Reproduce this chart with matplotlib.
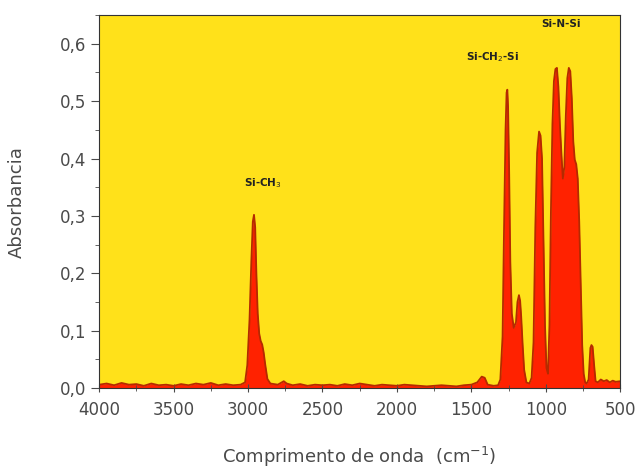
import matplotlib
matplotlib.use("Agg")
import matplotlib.pyplot as plt
from matplotlib.ticker import MultipleLocator, FuncFormatter

# FTIR spectrum (wavenumber in cm-1, absorbance)
wavenumber = [
    4000, 3950, 3900, 3850, 3800, 3750, 3700, 3650, 3600, 3550, 3500, 3450,
    3400, 3350, 3300, 3250, 3200, 3150, 3100, 3050, 3020, 3005, 2990, 2978,
    2968, 2960, 2952, 2944, 2935, 2925, 2915, 2905, 2895, 2885, 2870, 2850,
    2800, 2760, 2740, 2700, 2650, 2600, 2550, 2500, 2450, 2400, 2350, 2300,
    2250, 2200, 2150, 2100, 2050, 2000, 1950, 1900, 1850, 1800, 1750, 1700,
    1650, 1600, 1550, 1500, 1460, 1430, 1410, 1390, 1350, 1320, 1305, 1290,
    1280, 1270, 1263, 1258, 1253, 1246, 1238, 1228, 1215, 1200, 1190, 1180,
    1172, 1165, 1155, 1145, 1130, 1110, 1095, 1082, 1070, 1058, 1045, 1035,
    1025, 1015, 1005, 995, 985, 975, 965, 955, 945, 935, 925, 915,
    905, 895, 885, 875, 865, 855, 845, 835, 825, 815, 805, 795,
    785, 775, 765, 755, 745, 735, 725, 712, 700, 693, 685, 675,
    665, 650, 630, 610, 590, 570, 550, 530, 500,
]
absorbance = [
    0.006, 0.008, 0.005, 0.009, 0.006, 0.007, 0.004, 0.008, 0.005, 0.006, 0.004, 0.007,
    0.005, 0.008, 0.006, 0.009, 0.005, 0.007, 0.005, 0.006, 0.010, 0.040, 0.120, 0.220,
    0.290, 0.302, 0.280, 0.200, 0.130, 0.095, 0.082, 0.076, 0.062, 0.042, 0.016, 0.008,
    0.006, 0.012, 0.008, 0.005, 0.007, 0.004, 0.006, 0.005, 0.006, 0.004, 0.007, 0.005,
    0.008, 0.006, 0.004, 0.006, 0.005, 0.004, 0.006, 0.005, 0.004, 0.003, 0.004, 0.005,
    0.004, 0.003, 0.005, 0.006, 0.010, 0.020, 0.018, 0.006, 0.004, 0.005, 0.015, 0.090,
    0.280, 0.450, 0.515, 0.520, 0.490, 0.380, 0.220, 0.130, 0.105, 0.115, 0.150, 0.162,
    0.152, 0.125, 0.075, 0.032, 0.010, 0.008, 0.018, 0.080, 0.280, 0.410, 0.447, 0.440,
    0.400, 0.260, 0.110, 0.035, 0.025, 0.110, 0.310, 0.460, 0.535, 0.556, 0.558, 0.525,
    0.460, 0.410, 0.365, 0.385, 0.475, 0.540, 0.558, 0.552, 0.505, 0.430, 0.398, 0.390,
    0.365, 0.290, 0.180, 0.075, 0.025, 0.010, 0.008, 0.015, 0.070, 0.075, 0.072, 0.040,
    0.012, 0.010, 0.015, 0.012, 0.014, 0.010, 0.013, 0.011, 0.012,
]

# band labels: (text, x, y)
band_labels = [
    ("Si-CH$_3$", 2900, 0.345),
    ("Si-CH$_2$-Si", 1360, 0.565),
    ("Si-N-Si", 900, 0.625),
]

fig = plt.figure(figsize=(6.4, 4.71), dpi=100)
ax = fig.add_axes([0.155, 0.176, 0.814, 0.792])
ax.set_facecolor("#FFE11A")

ax.fill_between(wavenumber, absorbance, 0, color="#FF2200", linewidth=0)
ax.plot(wavenumber, absorbance, color="#B42A00", linewidth=1.3)

for txt, x, y in band_labels:
    ax.text(x, y, txt, ha="center", va="bottom", fontsize=7.5,
            fontweight="bold", color="#222222")

ax.set_xlim(4000, 500)
ax.set_ylim(0, 0.65)
ax.xaxis.set_major_locator(MultipleLocator(500))
ax.xaxis.set_minor_locator(MultipleLocator(250))
ax.yaxis.set_major_locator(MultipleLocator(0.1))
ax.yaxis.set_minor_locator(MultipleLocator(0.05))
ax.yaxis.set_major_formatter(FuncFormatter(lambda v, p: f"{v:.1f}".replace(".", ",")))

tick_grey = "#4a4a4a"
ax.tick_params(which="both", colors=tick_grey, labelsize=12)
ax.tick_params(axis="y", which="both", direction="out")
ax.tick_params(axis="y", which="major", length=6, pad=3)
ax.tick_params(axis="y", which="minor", length=3)
ax.tick_params(axis="x", which="both", direction="inout")
ax.tick_params(axis="x", which="major", length=6, pad=6)
ax.tick_params(axis="x", which="minor", length=4)
for s in ax.spines.values():
    s.set_color("#333333")

ax.set_xlabel("Comprimento de onda  (cm$^{-1}$)", fontsize=13, color=tick_grey, labelpad=19)
ax.set_ylabel("Absorbancia", fontsize=13, color=tick_grey, labelpad=25)

fig.savefig("out.png", dpi=100, facecolor="white")
